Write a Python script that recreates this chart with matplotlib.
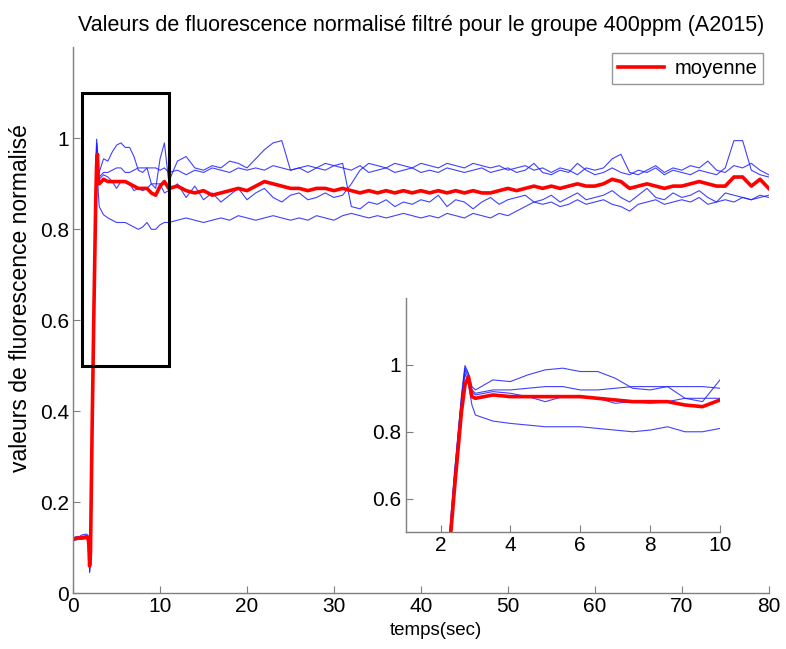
import numpy as np
import matplotlib
matplotlib.use("Agg")
import matplotlib.pyplot as plt
from matplotlib.patches import Rectangle

plt.rcParams['font.family'] = ['Liberation Sans', 'DejaVu Sans']

# temps (s): echantillonnage fin au debut, puis 1 s
t_debut = [0, 0.5, 1.0, 1.5, 1.7, 1.8, 1.9, 2.0, 2.2, 2.4, 2.6, 2.7, 2.8, 2.9,
           3.0, 3.5, 4.0, 4.5, 5.0, 5.5, 6.0, 6.5, 7.0, 7.5, 8.0, 8.5, 9.0, 9.5, 10.0, 10.5]
t_suite = list(range(11, 81))
temps = np.array(t_debut + t_suite, dtype=float)

# courbes individuelles (bleu)
essai_a = [0.118, 0.122, 0.128, 0.130, 0.128, 0.110, 0.048, 0.10, 0.41, 0.67, 0.91, 0.998, 0.975, 0.935,
           0.925, 0.955, 0.95, 0.97, 0.985, 0.99, 0.98, 0.98, 0.96, 0.93, 0.925, 0.935, 0.90, 0.89, 0.955, 0.99,
           0.905, 0.95, 0.96, 0.935, 0.93, 0.94, 0.935, 0.95, 0.945, 0.935,
           0.955, 0.975, 0.99, 0.995, 0.93, 0.935, 0.94, 0.935, 0.945, 0.94,
           0.945, 0.85, 0.845, 0.86, 0.855, 0.865, 0.85, 0.86, 0.855, 0.865,
           0.86, 0.875, 0.85, 0.865, 0.86, 0.845, 0.86, 0.87, 0.855, 0.865,
           0.87, 0.875, 0.86, 0.865, 0.875, 0.86, 0.87, 0.88, 0.865, 0.87,
           0.875, 0.885, 0.87, 0.86, 0.875, 0.89, 0.87, 0.865, 0.88, 0.87,
           0.875, 0.885, 0.87, 0.86, 0.88, 0.875, 0.87, 0.865, 0.875, 0.87]
essai_b = [0.122, 0.125, 0.122, 0.126, 0.124, 0.108, 0.055, 0.11, 0.42, 0.68, 0.90, 0.99, 0.97, 0.925,
           0.915, 0.925, 0.925, 0.93, 0.935, 0.935, 0.925, 0.925, 0.93, 0.935, 0.935, 0.935, 0.935, 0.935, 0.93, 0.935,
           0.925, 0.93, 0.92, 0.93, 0.925, 0.935, 0.93, 0.925, 0.935, 0.93,
           0.935, 0.93, 0.94, 0.935, 0.93, 0.935, 0.925, 0.935, 0.93, 0.94,
           0.935, 0.93, 0.94, 0.925, 0.93, 0.935, 0.925, 0.93, 0.935, 0.925,
           0.93, 0.925, 0.935, 0.93, 0.925, 0.93, 0.935, 0.925, 0.93, 0.935,
           0.925, 0.93, 0.945, 0.925, 0.92, 0.93, 0.925, 0.945, 0.93, 0.92,
           0.925, 0.935, 0.925, 0.92, 0.93, 0.925, 0.935, 0.92, 0.93, 0.925,
           0.92, 0.93, 0.925, 0.92, 0.935, 0.995, 0.995, 0.93, 0.92, 0.915]
essai_c = [0.115, 0.118, 0.120, 0.119, 0.121, 0.105, 0.050, 0.10, 0.40, 0.66, 0.89, 0.985, 0.96, 0.92,
           0.91, 0.92, 0.915, 0.905, 0.89, 0.905, 0.905, 0.90, 0.885, 0.89, 0.885, 0.89, 0.90, 0.90, 0.90, 0.88,
           0.885, 0.90, 0.87, 0.895, 0.865, 0.88, 0.86, 0.875, 0.89, 0.865,
           0.88, 0.89, 0.87, 0.86, 0.875, 0.88, 0.865, 0.87, 0.88, 0.87,
           0.875, 0.90, 0.93, 0.945, 0.94, 0.935, 0.945, 0.94, 0.935, 0.945,
           0.94, 0.935, 0.945, 0.94, 0.935, 0.945, 0.94, 0.935, 0.94, 0.93,
           0.935, 0.94, 0.93, 0.935, 0.925, 0.935, 0.93, 0.92, 0.935, 0.93,
           0.935, 0.955, 0.965, 0.925, 0.92, 0.93, 0.94, 0.925, 0.935, 0.93,
           0.94, 0.935, 0.95, 0.93, 0.925, 0.94, 0.935, 0.945, 0.93, 0.92]
essai_d = [0.120, 0.121, 0.118, 0.122, 0.120, 0.106, 0.045, 0.09, 0.39, 0.65, 0.88, 0.975, 0.94, 0.88,
           0.85, 0.832, 0.825, 0.82, 0.815, 0.815, 0.815, 0.81, 0.805, 0.80, 0.805, 0.815, 0.80, 0.80, 0.81, 0.815,
           0.815, 0.82, 0.825, 0.82, 0.815, 0.82, 0.825, 0.82, 0.83, 0.825,
           0.82, 0.825, 0.83, 0.825, 0.82, 0.825, 0.82, 0.83, 0.825, 0.82,
           0.83, 0.835, 0.83, 0.825, 0.83, 0.825, 0.83, 0.835, 0.83, 0.825,
           0.83, 0.825, 0.835, 0.83, 0.825, 0.835, 0.83, 0.825, 0.835, 0.83,
           0.84, 0.85, 0.86, 0.855, 0.86, 0.85, 0.855, 0.865, 0.855, 0.86,
           0.865, 0.855, 0.85, 0.84, 0.855, 0.86, 0.865, 0.855, 0.86, 0.865,
           0.86, 0.87, 0.855, 0.86, 0.865, 0.86, 0.87, 0.865, 0.87, 0.875]
# moyenne (rouge)
moyenne = [0.119, 0.121, 0.122, 0.124, 0.123, 0.110, 0.060, 0.09, 0.38, 0.63, 0.86, 0.94, 0.965, 0.905,
           0.90, 0.91, 0.905, 0.905, 0.905, 0.905, 0.905, 0.90, 0.895, 0.89, 0.89, 0.89, 0.88, 0.875, 0.895, 0.905,
           0.89, 0.895, 0.885, 0.88, 0.885, 0.875, 0.88, 0.885, 0.89, 0.885,
           0.895, 0.905, 0.90, 0.895, 0.89, 0.89, 0.885, 0.89, 0.89, 0.885,
           0.89, 0.885, 0.88, 0.885, 0.88, 0.885, 0.88, 0.885, 0.88, 0.885,
           0.88, 0.885, 0.88, 0.885, 0.88, 0.885, 0.88, 0.88, 0.885, 0.89,
           0.885, 0.89, 0.895, 0.89, 0.895, 0.89, 0.895, 0.90, 0.895, 0.895,
           0.90, 0.91, 0.905, 0.89, 0.895, 0.90, 0.895, 0.89, 0.895, 0.895,
           0.90, 0.905, 0.90, 0.895, 0.895, 0.915, 0.915, 0.895, 0.91, 0.89]

essais = [essai_a, essai_b, essai_c, essai_d]
bleu = '#2020ff'
gris = '#7f7f7f'


def style_axes(ax):
    for s in ('top', 'right'):
        ax.spines[s].set_visible(False)
    for s in ('left', 'bottom'):
        ax.spines[s].set_color(gris)
        ax.spines[s].set_linewidth(1.0)
    ax.tick_params(direction='in', length=5, color=gris, labelsize=15, labelcolor='black', pad=3)


fig = plt.figure(figsize=(7.86, 6.49), dpi=100)

ax = fig.add_axes([0.093, 0.086, 0.885, 0.841])
for e in essais:
    ax.plot(temps, e, color=bleu, lw=0.8, alpha=0.85)
ax.plot(temps, moyenne, color='red', lw=2.6, label='moyenne')
ax.add_patch(Rectangle((1, 0.5), 10, 0.6, fill=False, edgecolor='black', lw=2.2, zorder=5))
ax.set_xlim(0, 80)
ax.set_ylim(0, 1.2)
ax.set_xticks([0, 10, 20, 30, 40, 50, 60, 70, 80])
ax.set_yticks([0, 0.2, 0.4, 0.6, 0.8, 1.0])
ax.set_yticklabels(['0', '0.2', '0.4', '0.6', '0.8', '1'])
style_axes(ax)
ax.set_title('Valeurs de fluorescence normalisé filtré pour le groupe 400ppm (A2015)',
             fontsize=15.5, pad=12)
ax.set_xlabel('temps(sec)', fontsize=13.5)
ax.xaxis.set_label_coords(0.522, -0.052)
ax.set_ylabel('valeurs de fluorescence normalisé', fontsize=16.5, va='center')
ax.yaxis.set_label_coords(-0.076, 0.54)
leg = ax.legend(loc='upper right', fontsize=14.5, fancybox=False, handlelength=2.3,
                handletextpad=0.5, borderpad=0.3, borderaxespad=0,
                bbox_to_anchor=(0.992, 0.99))
leg.get_frame().set_edgecolor(gris)
leg.get_frame().set_linewidth(1.0)

ins = fig.add_axes([0.516, 0.180, 0.400, 0.361])
for e in essais:
    ins.plot(temps, e, color=bleu, lw=0.8, alpha=0.85)
ins.plot(temps, moyenne, color='red', lw=2.6)
ins.set_xlim(1, 10)
ins.set_ylim(0.5, 1.2)
ins.set_xticks([2, 4, 6, 8, 10])
ins.set_yticks([0.6, 0.8, 1.0])
ins.set_yticklabels(['0.6', '0.8', '1'])
style_axes(ins)

fig.savefig('out.png', dpi=100)
